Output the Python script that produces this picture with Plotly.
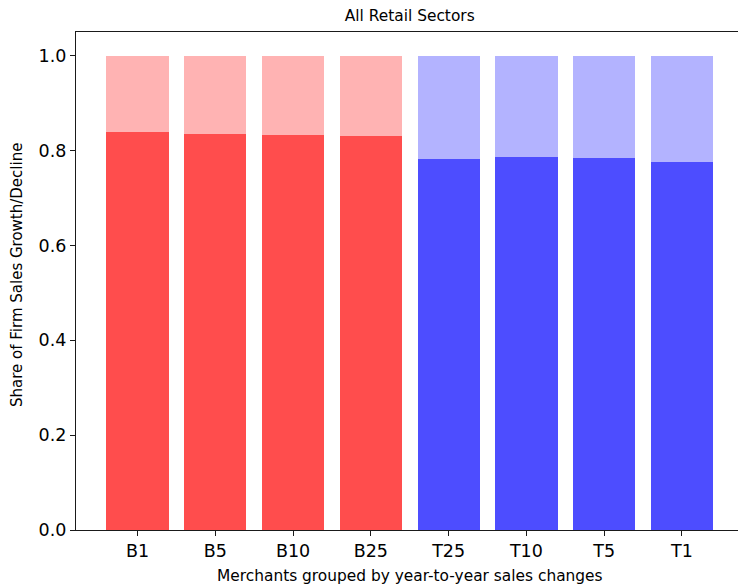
import plotly.graph_objects as go

# Merchant groups: bottom (B) and top (T) percentiles of year-to-year sales change
categories = ["B1", "B5", "B10", "B25", "T25", "T10", "T5", "T1"]
# Share of firms in each group matching the group's direction (growth/decline)
share_main = [0.839, 0.835, 0.833, 0.830, 0.783, 0.786, 0.785, 0.775]
share_rest = [1 - v for v in share_main]

y_ticks = [0.0, 0.2, 0.4, 0.6, 0.8, 1.0]
y_tick_text = ["0.0", "0.2", "0.4", "0.6", "0.8", "1.0"]

main_colors = ["#FF4D4D"] * 4 + ["#4D4DFF"] * 4
rest_colors = ["#FFB3B3"] * 4 + ["#B3B3FF"] * 4

x_pos = list(range(len(categories)))

fig = go.Figure()
fig.add_trace(go.Bar(
    x=x_pos, y=share_main, width=0.8,
    marker=dict(color=main_colors, line=dict(width=0)),
    showlegend=False, hoverinfo="x+y",
))
fig.add_trace(go.Bar(
    x=x_pos, y=share_rest, width=0.8,
    marker=dict(color=rest_colors, line=dict(width=0)),
    showlegend=False, hoverinfo="x+y",
))

font_family = "DejaVu Sans"
axis_color = "#1a1a1a"

fig.update_layout(
    barmode="stack",
    width=738, height=584,
    margin=dict(l=76, r=0, t=32, b=54),
    paper_bgcolor="white", plot_bgcolor="white",
    font=dict(family=font_family, color="black"),
    title=dict(
        text="All Retail Sectors",
        font=dict(size=15.4, family=font_family, color="black"),
        x=409.75 / 738, xref="container", xanchor="center",
        y=1 - 16 / 584, yref="container", yanchor="middle",
    ),
    bargap=0,
)

fig.update_xaxes(
    range=[-0.79, 7.72],
    tickmode="array", tickvals=x_pos, ticktext=categories,
    tickfont=dict(size=17.5, family=font_family, color="black"),
    ticks="outside", ticklen=5, tickwidth=1.2, tickcolor=axis_color,
    showline=True, linecolor=axis_color, linewidth=1.3, mirror=True,
    showgrid=False, zeroline=False,
)
fig.update_yaxes(
    range=[0, 1.05],
    tickmode="array", tickvals=y_ticks, ticktext=y_tick_text,
    tickfont=dict(size=17.5, family=font_family, color="black"),
    ticks="outside", ticklen=5, tickwidth=1.2, tickcolor=axis_color,
    showline=True, linecolor=axis_color, linewidth=1.3, mirror=False,
    showgrid=False, zeroline=False,
)

fig.add_annotation(
    text="Merchants grouped by year-to-year sales changes",
    xref="paper", yref="paper",
    x=(409.75 - 76) / 662, y=(530 - 576) / 498,
    xanchor="center", yanchor="middle", showarrow=False,
    font=dict(size=15.4, family=font_family, color="black"),
)
fig.add_annotation(
    text="Share of Firm Sales Growth/Decline",
    xref="paper", yref="paper",
    x=(17 - 76) / 662, y=(530 - 275) / 498,
    xanchor="center", yanchor="middle", textangle=-90, showarrow=False,
    font=dict(size=15, family=font_family, color="black"),
)

fig.write_html("out.html")
